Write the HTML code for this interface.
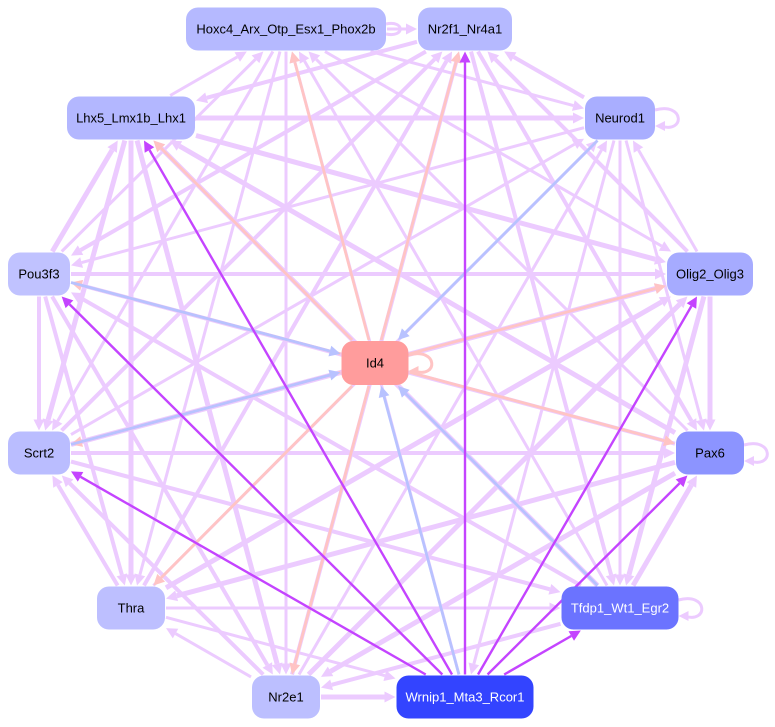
<!DOCTYPE html>
<html><head><meta charset="utf-8"><style>
html,body{margin:0;padding:0;background:#fff;}
svg{display:block;font-family:"Liberation Sans",sans-serif;}
</style></head><body>
<svg id="s" width="775" height="727" viewBox="0 0 775 727" xmlns="http://www.w3.org/2000/svg">
<g id="edges"></g><g id="nodes"></g>
</svg>
<script>
var N={
hox:[286,29,200,43,'#b5b9ff','#000','Hoxc4_Arx_Otp_Esx1_Phox2b'],
nr2f1:[465,29,94,43,'#b5b9ff','#000','Nr2f1_Nr4a1'],
lhx:[131,118,128,43,'#b3b7ff','#000','Lhx5_Lmx1b_Lhx1'],
neu:[620,118,70,43,'#a9aeff','#000','Neurod1'],
pou:[39,274,62,43,'#c0c2ff','#000','Pou3f3'],
olig:[710,274,86,43,'#a6abff','#000','Olig2_Olig3'],
id4:[375,363,67,44,'#ff9c9c','#000','Id4'],
scrt:[39,453,62,43,'#babdff','#000','Scrt2'],
pax:[710,453,68,43,'#8c94ff','#000','Pax6'],
thra:[131,608,68,43,'#bdbfff','#000','Thra'],
tfdp:[620,608,117,43,'#6b73ff','#fff','Tfdp1_Wt1_Egr2'],
nr2e1:[286,697,68,43,'#bcbfff','#000','Nr2e1'],
wrn:[465,697,137,43,'#3344ff','#fff','Wrnip1_Mta3_Rcor1']};
var keys=Object.keys(N);
var special={};
var E=[];
['hox','nr2f1','lhx','pou','olig','pax','scrt','thra','nr2e1'].forEach(function(k){E.push(['id4',k,'#ffc4c4',2.8]);special['id4|'+k]=1;special[k+'|id4']=1;});
['neu','pou','scrt','tfdp','wrn'].forEach(function(k){E.push([k,'id4','#b8c2ff',2.8]);special['id4|'+k]=1;special[k+'|id4']=1;});
['nr2f1','lhx','pou','scrt','olig','pax','tfdp'].forEach(function(k){E.push(['wrn',k,'#c444ff',2.4]);special['wrn|'+k]=1;special[k+'|wrn']=1;});
var L=[];
for(var i=0;i<keys.length;i++)for(var j=i+1;j<keys.length;j++){var a=keys[i],b=keys[j];if(special[a+'|'+b])continue;
 var w=3+((i*7+j*3)%3);
 if((i+j)%2)L.push([a,b,'#eccbff',w]);else L.push([b,a,'#eccbff',w]);}
var all=L.concat(E);
function clip(n,dx,dy){var hw=n[2]/2+1,hh=n[3]/2+1;var t=Math.min(hw/Math.abs(dx||1e-9),hh/Math.abs(dy||1e-9));return [n[0]+dx*t,n[1]+dy*t];}
var g=document.getElementById('edges'),h='';
all.forEach(function(e){var A=N[e[0]],B=N[e[1]];var dx=B[0]-A[0],dy=B[1]-A[1];
 var p=clip(A,dx,dy),q=clip(B,-dx,-dy);var len=Math.hypot(q[0]-p[0],q[1]-p[1]);var ux=(q[0]-p[0])/len,uy=(q[1]-p[1])/len;
 var al=11,aw=5.5;var bx=q[0]-ux*al,by=q[1]-uy*al;
 h+='<line x1="'+p[0]+'" y1="'+p[1]+'" x2="'+bx+'" y2="'+by+'" stroke="'+e[2]+'" stroke-width="'+e[3]+'"/>';
 h+='<polygon points="'+q[0]+','+q[1]+' '+(bx-uy*aw)+','+(by+ux*aw)+' '+(bx+uy*aw)+','+(by-ux*aw)+'" fill="'+e[2]+'"/>';});
g.innerHTML=h;
</script>
<script>
var gn=document.getElementById('nodes'),s='';
[['neu'],['pax'],['tfdp'],['id4']].forEach(function(k){var n=N[k[0]];var x=n[0]+n[2]/2,y=n[1];
 var c=k[0]=='id4'?'#ffc4c4':'#eccbff';
 s+='<path d="M'+x+','+(y-8)+' C'+(x+30)+','+(y-16)+' '+(x+30)+','+(y+16)+' '+(x+6)+','+(y+8)+'" fill="none" stroke="'+c+'" stroke-width="3"/>';
 s+='<polygon points="'+x+','+(y+8)+' '+(x+10)+','+(y+3)+' '+(x+10)+','+(y+13)+'" fill="'+c+'"/>';});
s+='<path d="M386,24 C405,20 405,38 386,34" fill="none" stroke="#eccbff" stroke-width="3"/>';
keys.forEach(function(k){var n=N[k];
 s+='<rect x="'+(n[0]-n[2]/2)+'" y="'+(n[1]-n[3]/2)+'" width="'+n[2]+'" height="'+n[3]+'" rx="12" fill="'+n[4]+'"/>';
 s+='<text x="'+n[0]+'" y="'+(n[1]+4.5)+'" font-size="13" text-anchor="middle" fill="'+n[5]+'">'+n[6]+'</text>';});
gn.innerHTML=s;
</script>
</body></html>
